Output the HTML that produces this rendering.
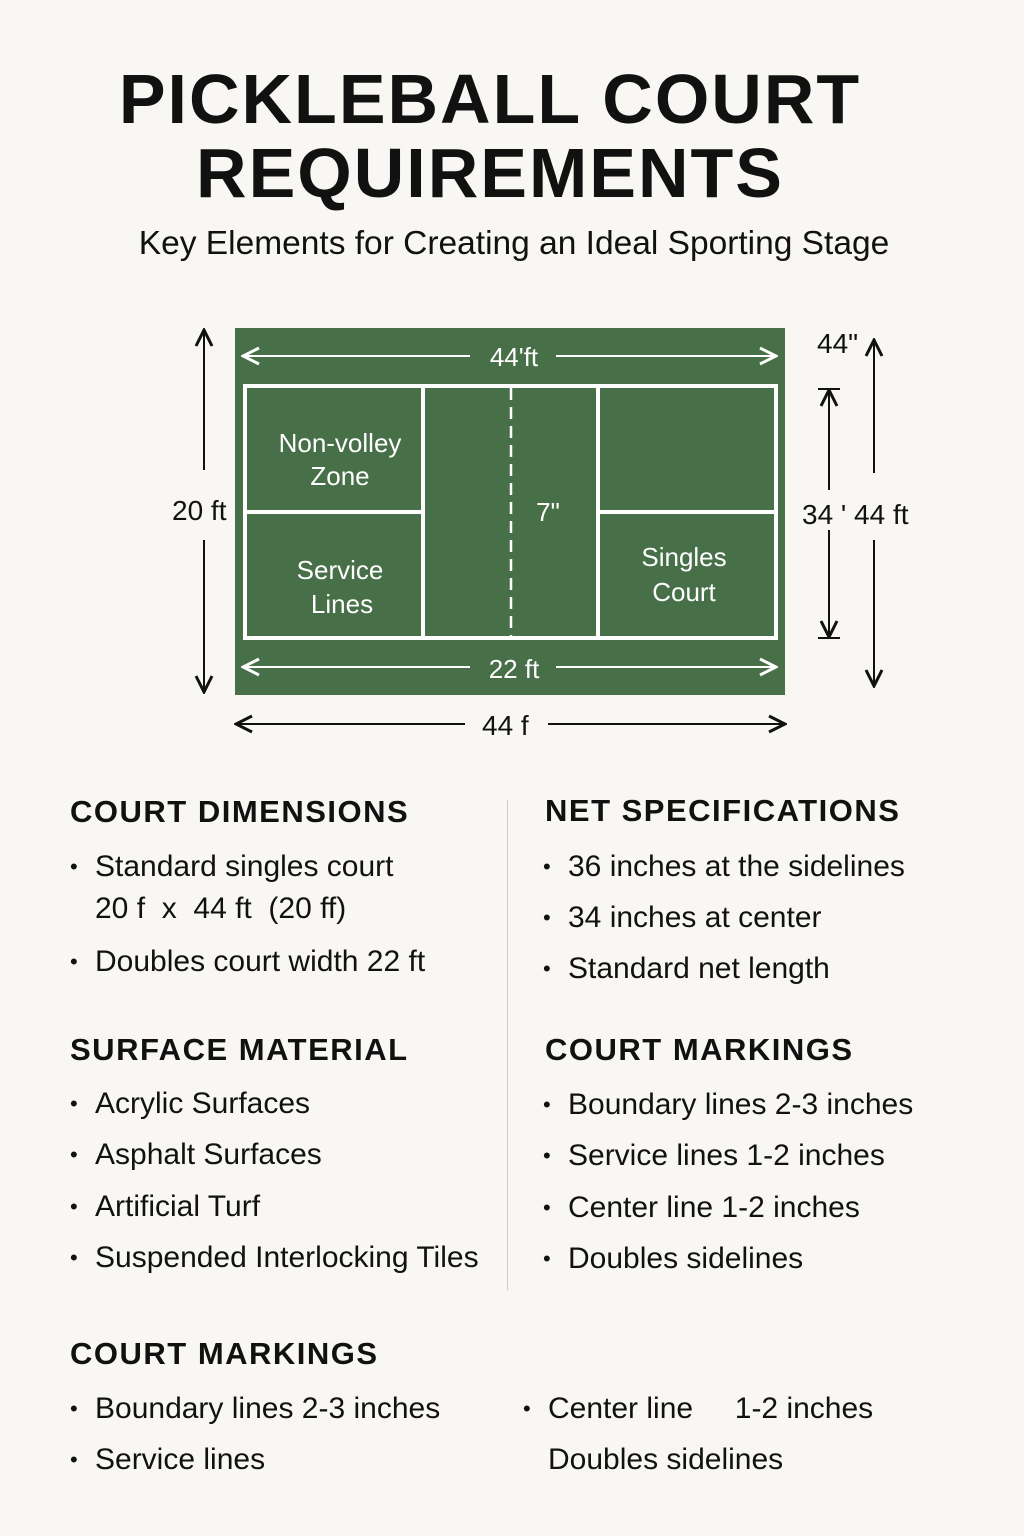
<!DOCTYPE html>
<html><head><meta charset="utf-8"><style>
body{margin:0;width:1024px;height:1536px;background:#f8f7f3;font-family:"Liberation Sans",sans-serif;color:#111;position:relative;overflow:hidden}
.a{position:absolute}
h1{position:absolute;margin:0;width:1024px;left:-22px;text-align:center;font-size:70px;font-weight:bold;letter-spacing:2px;line-height:74px;top:62px}
.sub{top:225px;width:1024px;left:2px;text-align:center;font-size:33.5px}
.h{font-size:31px;font-weight:bold;letter-spacing:1.5px}
.li{font-size:30px}
.li:before{content:"•";position:absolute;left:-25px;font-size:22px;top:4px}
</style></head><body>
<h1>PICKLEBALL COURT<br>REQUIREMENTS</h1>
<div class="a sub">Key Elements for Creating an Ideal Sporting Stage</div>
<svg class="a" style="left:0;top:0" width="1024" height="760" font-family="Liberation Sans,sans-serif">
<defs><marker id="m" markerWidth="10" markerHeight="10" refX="9" refY="5" orient="auto"><path d="M1,1 L9,5 L1,9" fill="none" stroke="context-stroke" stroke-width="1.5"/></marker></defs>
<rect x="235" y="328" width="550" height="367" fill="#476f48"/>
<g fill="none" stroke="#fff" stroke-width="4">
<rect x="245" y="386" width="531" height="252"/>
<line x1="423" y1="386" x2="423" y2="638"/><line x1="598" y1="386" x2="598" y2="638"/>
<line x1="245" y1="512" x2="423" y2="512"/><line x1="598" y1="512" x2="776" y2="512"/>
<line x1="511" y1="388" x2="511" y2="636" stroke-width="2.5" stroke-dasharray="12 7"/>
</g>
<g stroke="#fff" stroke-width="2" marker-end="url(#m)">
<line x1="470" y1="356" x2="243" y2="356"/><line x1="556" y1="356" x2="776" y2="356"/>
<line x1="470" y1="667" x2="243" y2="667"/><line x1="556" y1="667" x2="776" y2="667"/>
</g>
<g fill="#fff" font-size="26" text-anchor="middle">
<text x="514" y="366">44'ft</text><text x="514" y="678">22 ft</text>
<text x="340" y="452">Non-volley</text><text x="340" y="485">Zone</text>
<text x="340" y="579">Service</text><text x="342" y="613">Lines</text>
<text x="684" y="566">Singles</text><text x="684" y="601">Court</text>
<text x="548" y="521">7"</text>
</g>
<g stroke="#111" stroke-width="2" marker-end="url(#m)">
<line x1="204" y1="470" x2="204" y2="330"/><line x1="204" y1="540" x2="204" y2="692"/>
<line x1="465" y1="724" x2="236" y2="724"/><line x1="548" y1="724" x2="785" y2="724"/>
<line x1="874" y1="473" x2="874" y2="340"/><line x1="874" y1="540" x2="874" y2="686"/>
<line x1="829" y1="490" x2="829" y2="390"/><line x1="829" y1="530" x2="829" y2="637"/>
</g>
<g stroke="#111" stroke-width="2"><line x1="818" y1="389" x2="840" y2="389"/><line x1="818" y1="638" x2="840" y2="638"/></g>
<g fill="#111" font-size="28">
<text x="172" y="520">20 ft</text><text x="482" y="735">44 f</text>
<text x="817" y="353">44"</text><text x="802" y="524">34 ' 44 ft</text>
</g>
</svg>
<div class="a" style="left:507px;top:800px;width:1px;height:490px;background:#ccc"></div>
<div class="a h" style="left:70px;top:794px">COURT DIMENSIONS</div>
<div class="a li" style="left:95px;top:850px">Standard singles court</div>
<div class="a" style="left:95px;top:892px;font-size:30px">20 f &nbsp;x &nbsp;44 ft &nbsp;(20 ff)</div>
<div class="a li" style="left:95px;top:945px">Doubles court width 22 ft</div>
<div class="a h" style="left:70px;top:1032px">SURFACE MATERIAL</div>
<div class="a li" style="left:95px;top:1087px">Acrylic Surfaces</div>
<div class="a li" style="left:95px;top:1138px">Asphalt Surfaces</div>
<div class="a li" style="left:95px;top:1190px">Artificial Turf</div>
<div class="a li" style="left:95px;top:1241px">Suspended Interlocking Tiles</div>
<div class="a h" style="left:545px;top:793px">NET SPECIFICATIONS</div>
<div class="a li" style="left:568px;top:850px">36 inches at the sidelines</div>
<div class="a li" style="left:568px;top:901px">34 inches at center</div>
<div class="a li" style="left:568px;top:952px">Standard net length</div>
<div class="a h" style="left:545px;top:1032px">COURT MARKINGS</div>
<div class="a li" style="left:568px;top:1088px">Boundary lines 2-3 inches</div>
<div class="a li" style="left:568px;top:1139px">Service lines 1-2 inches</div>
<div class="a li" style="left:568px;top:1191px">Center line 1-2 inches</div>
<div class="a li" style="left:568px;top:1242px">Doubles sidelines</div>
<div class="a h" style="left:70px;top:1336px">COURT MARKINGS</div>
<div class="a li" style="left:95px;top:1392px">Boundary lines 2-3 inches</div>
<div class="a li" style="left:95px;top:1443px">Service lines</div>
<div class="a li" style="left:548px;top:1392px">Center line &nbsp;&nbsp;&nbsp;&nbsp;1-2 inches</div>
<div class="a" style="left:548px;top:1443px;font-size:30px">Doubles sidelines</div>
</body></html>
